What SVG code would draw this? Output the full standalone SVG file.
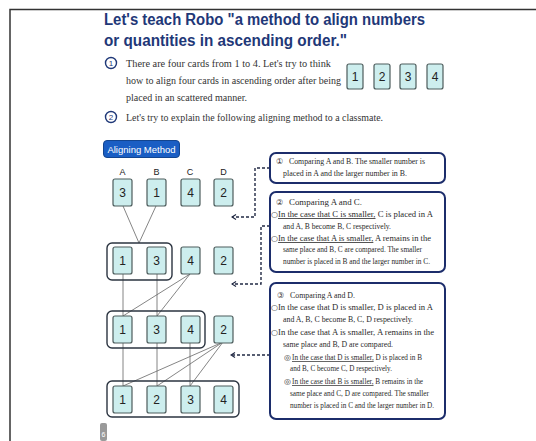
<svg xmlns="http://www.w3.org/2000/svg" width="536" height="441" viewBox="0 0 536 441">
<style>
.title{font-family:"Liberation Sans",Arial,sans-serif;font-weight:bold;font-size:16px;fill:#1f3878}
.body{font-family:"Liberation Serif","Times New Roman",serif;font-size:10.5px;fill:#333}
.sm{font-family:"Liberation Serif","Times New Roman",serif;font-size:8px;fill:#2a2a2a}
.xs{font-family:"Liberation Serif","Times New Roman",serif;font-size:7.2px;fill:#2a2a2a}
.sym{font-family:"DejaVu Sans",sans-serif;font-size:8px;fill:#333}
.card{fill:#cdeeee;stroke:#4d5c5c;stroke-width:1.2}
.num{font-family:"Liberation Sans",Arial,sans-serif;font-size:12px;fill:#222;text-anchor:middle}
.let{font-family:"Liberation Sans",Arial,sans-serif;font-size:9px;fill:#222;text-anchor:middle}
.grp{fill:none;stroke:#2b3440;stroke-width:1.4}
.box{fill:#fff;stroke:#1c2d6b;stroke-width:2}
.ln{stroke:#666;stroke-width:0.8;fill:none}
.dash{stroke:#222a44;stroke-width:1.4;stroke-dasharray:3 2;fill:none}
.u{text-decoration:underline}
.cn{fill:#fff;stroke:#1f3878;stroke-width:1.4}
.cnt{font-family:"Liberation Sans",Arial,sans-serif;font-size:8px;fill:#1f3878;text-anchor:middle}
</style>
<defs>
<marker id="chev" viewBox="0 0 6 6" refX="5" refY="3" markerWidth="6" markerHeight="6" markerUnits="userSpaceOnUse" orient="auto">
<path d="M1,0.5 L5,3 L1,5.5" fill="none" stroke="#222a44" stroke-width="1.2"/>
</marker>
</defs>
<rect width="536" height="441" fill="#fff"/>
<path d="M10,441 V9.5 H536" fill="none" stroke="#333" stroke-width="1.5"/>

<g id="title">
<text class="title" x="104" y="25" textLength="321" lengthAdjust="spacingAndGlyphs">Let's teach Robo "a method to align numbers</text>
<text class="title" x="104" y="46" textLength="243" lengthAdjust="spacingAndGlyphs">or quantities in ascending order."</text>
</g>

<g id="item1">
<circle class="cn" cx="111" cy="63" r="5.5"/>
<text class="cnt" x="111" y="66">1</text>
<text class="body" x="126" y="67" textLength="205" lengthAdjust="spacingAndGlyphs">There are four cards from 1 to 4. Let's try to think</text>
<text class="body" x="126" y="84" textLength="215" lengthAdjust="spacingAndGlyphs">how to align four cards in ascending order after being</text>
<text class="body" x="126" y="101" textLength="121" lengthAdjust="spacingAndGlyphs">placed in an scattered manner.</text>
</g>

<g id="sample-cards">
<rect class="card" x="347" y="64" width="16" height="25" rx="2"/><text class="num" x="355" y="81">1</text>
<rect class="card" x="374" y="64" width="16" height="25" rx="2"/><text class="num" x="382" y="81">2</text>
<rect class="card" x="400" y="64" width="16" height="25" rx="2"/><text class="num" x="408" y="81">3</text>
<rect class="card" x="427" y="64" width="16" height="25" rx="2"/><text class="num" x="435" y="81">4</text>
</g>

<g id="item2">
<circle class="cn" cx="111" cy="117" r="5.5"/>
<text class="cnt" x="111" y="120">2</text>
<text class="body" x="126" y="121" textLength="257" lengthAdjust="spacingAndGlyphs">Let's try to explain the following aligning method to a classmate.</text>
</g>

<g id="label">
<rect x="103.5" y="140.5" width="76" height="17" rx="3.5" fill="#1a5ec4" stroke="#13458f" stroke-width="1"/>
<text x="141.5" y="152.5" text-anchor="middle" font-family="Liberation Sans,Arial,sans-serif" font-size="9.5" fill="#fff">Aligning Method</text>
</g>

<g id="letters">
<text class="let" x="122.5" y="175">A</text>
<text class="let" x="156.5" y="175">B</text>
<text class="let" x="190" y="175">C</text>
<text class="let" x="223.5" y="175">D</text>
</g>

<g id="connectors">
<path class="ln" d="M123,206 L139,243 M156,206 L139,243"/>
<path class="ln" d="M123,274 V316 M157,274 V316 M190,274 L123,316 M190,274 L157,316"/>
<path class="ln" d="M123,343 V386 M157,343 V386 M190,343 V386 M223,342 L123,386 M223,342 L157,386 M223,342 L190,386"/>
<path class="dash" d="M270,168 H255 V217 H232" marker-end="url(#chev)"/>
<path class="dash" d="M270,226 H261 V284 H232" marker-end="url(#chev)"/>
<path class="dash" d="M270,355 H231" marker-end="url(#chev)"/>
</g>

<g id="row1">
<rect class="card" x="113" y="179" width="19" height="27" rx="2"/><text class="num" x="122.5" y="197">3</text>
<rect class="card" x="147" y="179" width="19" height="27" rx="2"/><text class="num" x="156.5" y="197">1</text>
<rect class="card" x="181" y="179" width="19" height="27" rx="2"/><text class="num" x="190.5" y="197">4</text>
<rect class="card" x="214" y="179" width="19" height="27" rx="2"/><text class="num" x="223.5" y="197">2</text>
</g>

<g id="row2">
<rect class="grp" x="107" y="243" width="65" height="37" rx="5"/>
<rect class="card" x="113" y="247" width="19" height="27" rx="2"/><text class="num" x="122.5" y="265">1</text>
<rect class="card" x="147" y="247" width="19" height="27" rx="2"/><text class="num" x="156.5" y="265">3</text>
<rect class="card" x="181" y="247" width="19" height="27" rx="2"/><text class="num" x="190.5" y="265">4</text>
<rect class="card" x="214" y="247" width="19" height="27" rx="2"/><text class="num" x="223.5" y="265">2</text>
</g>

<g id="row3">
<rect class="grp" x="107" y="311" width="98" height="37" rx="5"/>
<rect class="card" x="113" y="316" width="19" height="27" rx="2"/><text class="num" x="122.5" y="334">1</text>
<rect class="card" x="147" y="316" width="19" height="27" rx="2"/><text class="num" x="156.5" y="334">3</text>
<rect class="card" x="181" y="316" width="19" height="27" rx="2"/><text class="num" x="190.5" y="334">4</text>
<rect class="card" x="214" y="316" width="19" height="27" rx="2"/><text class="num" x="223.5" y="334">2</text>
</g>

<g id="row4">
<rect class="grp" x="107" y="381" width="132" height="36" rx="5"/>
<rect class="card" x="113" y="386" width="19" height="27" rx="2"/><text class="num" x="122.5" y="404">1</text>
<rect class="card" x="147" y="386" width="19" height="27" rx="2"/><text class="num" x="156.5" y="404">2</text>
<rect class="card" x="181" y="386" width="19" height="27" rx="2"/><text class="num" x="190.5" y="404">3</text>
<rect class="card" x="214" y="386" width="19" height="27" rx="2"/><text class="num" x="223.5" y="404">4</text>
</g>

<g id="box1">
<rect class="box" x="270" y="153" width="175" height="30" rx="6"/>
<text class="sym" x="276" y="164">①</text>
<text class="sm" x="289" y="164" textLength="136" lengthAdjust="spacingAndGlyphs">Comparing A and B. The smaller number is</text>
<text class="sm" x="283" y="176" textLength="124" lengthAdjust="spacingAndGlyphs">placed in A and the larger number in B.</text>
</g>

<g id="box2">
<rect class="box" x="270" y="192" width="175" height="80" rx="6"/>
<text class="sym" x="276" y="205">②</text>
<text class="sm" x="289" y="205" textLength="73" lengthAdjust="spacingAndGlyphs">Comparing A and C.</text>
<text class="sym" x="271" y="217">○</text>
<text class="sm" x="278" y="217" textLength="155" lengthAdjust="spacingAndGlyphs"><tspan class="u">In the case that C is smaller,</tspan> C is placed in A</text>
<text class="sm" x="283" y="229" textLength="108" lengthAdjust="spacingAndGlyphs">and A, B  become B, C respectively.</text>
<text class="sym" x="271" y="241">○</text>
<text class="sm" x="278" y="241" textLength="153" lengthAdjust="spacingAndGlyphs"><tspan class="u">In the case that A is smaller,</tspan> A remains in the</text>
<text class="sm" x="283" y="252" textLength="139" lengthAdjust="spacingAndGlyphs">same place and B,  C are compared. The smaller</text>
<text class="sm" x="283" y="264" textLength="147" lengthAdjust="spacingAndGlyphs">number is placed in B and the larger number in C.</text>
</g>

<g id="box3">
<rect class="box" x="270" y="283" width="175" height="136" rx="6"/>
<text class="sym" x="277" y="298">③</text>
<text class="sm" x="290" y="298" textLength="65" lengthAdjust="spacingAndGlyphs">Comparing A and D.</text>
<text class="sym" x="271" y="310">○</text>
<text class="sm" x="278" y="310" textLength="155" lengthAdjust="spacingAndGlyphs">In the case that D is smaller, D is placed in A</text>
<text class="sm" x="283" y="322" textLength="130" lengthAdjust="spacingAndGlyphs">and A, B, C  become B, C, D respectively.</text>
<text class="sym" x="271" y="335">○</text>
<text class="sm" x="278" y="335" textLength="156" lengthAdjust="spacingAndGlyphs">In the case that A is smaller, A remains in the</text>
<text class="sm" x="283" y="347" textLength="110" lengthAdjust="spacingAndGlyphs">same place and B,  D are compared.</text>
<text class="sym" x="284" y="360">◎</text>
<text class="xs" x="292" y="360" textLength="130" lengthAdjust="spacingAndGlyphs"><tspan class="u">In the case that D is smaller,</tspan> D is placed in B</text>
<text class="sm" x="290" y="371" textLength="102" lengthAdjust="spacingAndGlyphs">and B, C become C, D respectively.</text>
<text class="sym" x="284" y="384">◎</text>
<text class="xs" x="292" y="384" textLength="131" lengthAdjust="spacingAndGlyphs"><tspan class="u">In the case that B is smaller,</tspan> B remains in the</text>
<text class="sm" x="290" y="396" textLength="139" lengthAdjust="spacingAndGlyphs">same place and C,  D are compared. The smaller</text>
<text class="sm" x="290" y="408" textLength="144" lengthAdjust="spacingAndGlyphs">number is placed in C and the larger number in D.</text>
</g>

<g id="page">
<rect x="100" y="423" width="7" height="18" rx="2" fill="#9a9a9a"/>
<text x="103.5" y="437" text-anchor="middle" font-family="Liberation Sans,Arial,sans-serif" font-size="7" fill="#fff">6</text>
</g>
</svg>
